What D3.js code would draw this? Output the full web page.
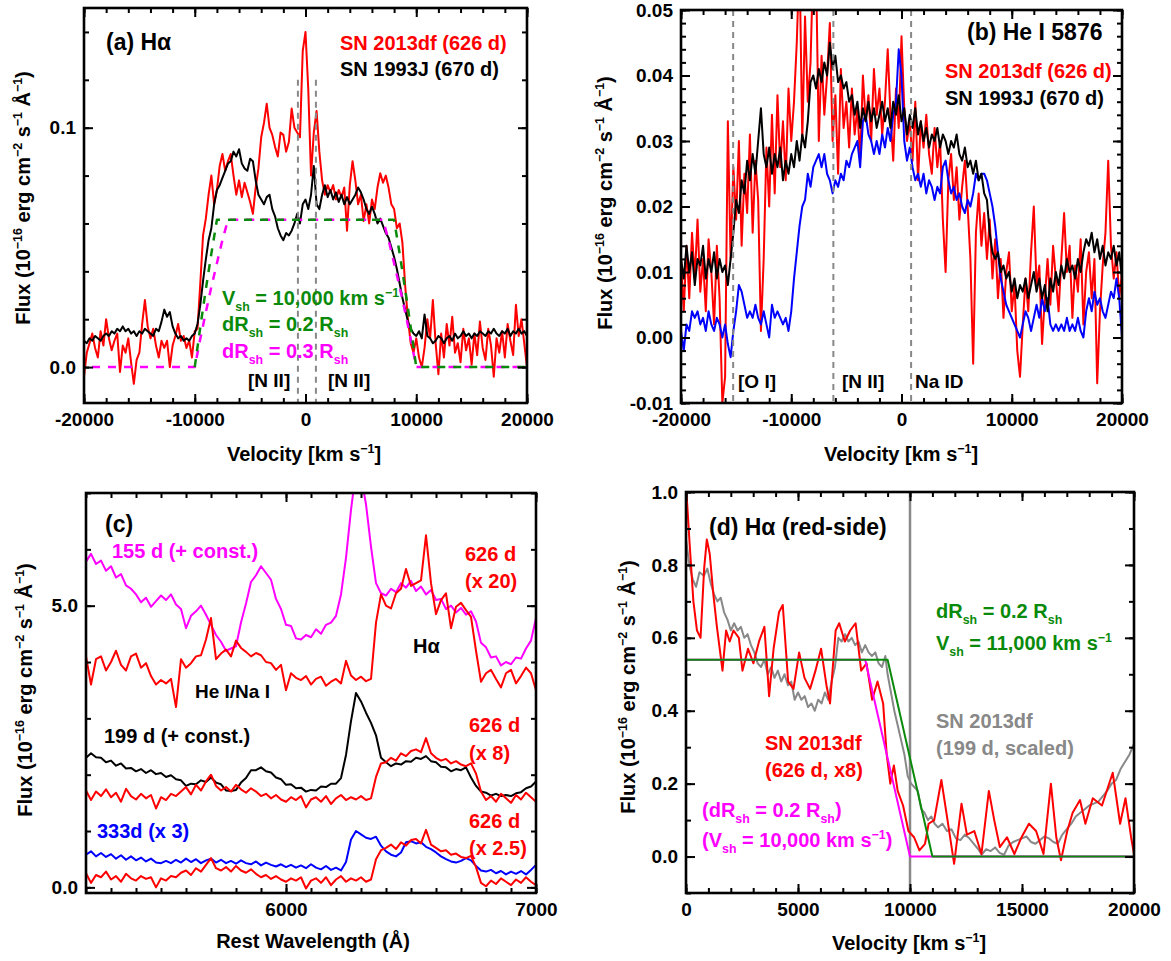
<!DOCTYPE html>
<html>
<head>
<meta charset="utf-8">
<script src="https://cdn.jsdelivr.net/npm/d3@7"></script>
<style>
  body { margin: 0; background: #fff; }
  text { font-family: Arial, "Liberation Sans", Helvetica, sans-serif; font-weight: bold; }
</style>
</head>
<body>
<svg id="fig" width="1171" height="961"></svg>
<script>
// ---------- DATA ----------
// panel (a): H-alpha, velocity grid from -20000 km/s, step 250
const aStart = -20000, aStep = 250;
const aRed = [
  -0.004,0.006,0.010,0.014,0.008,0.004,0.015,0.009,
  0.020,0.012,0.007,0.011,0.014,-0.002,0.009,0.006,
  0.012,0.002,-0.007,0.003,0.006,0.018,0.028,0.017,
  0.012,0.016,0.009,0.004,0.011,0.008,0.011,0.000,
  0.009,0.013,0.018,0.011,0.013,0.008,0.011,0.004,
  0.015,0.016,0.035,0.055,0.062,0.072,0.080,0.068,
  0.074,0.084,0.089,0.082,0.086,0.089,0.080,0.072,
  0.078,0.071,0.077,0.073,0.069,0.064,0.075,0.083,
  0.096,0.102,0.110,0.100,0.097,0.092,0.088,0.098,
  0.097,0.090,0.094,0.108,0.100,0.098,0.096,0.132,
  0.140,0.116,0.080,0.098,0.107,0.090,0.078,0.072,
  0.076,0.073,0.076,0.070,0.074,0.071,0.075,0.057,
  0.076,0.086,0.078,0.068,0.072,0.061,0.068,0.060,
  0.070,0.066,0.075,0.081,0.077,0.080,0.075,0.068,
  0.066,0.058,0.060,0.052,0.034,0.020,0.010,0.006,
  0.012,0.004,0.000,0.008,0.020,0.012,0.028,0.010,
  -0.003,0.014,0.004,0.018,0.009,0.021,0.006,0.010,
  0.002,0.016,0.007,0.012,0.001,0.014,0.005,0.019,
  0.008,0.003,0.016,0.009,-0.004,0.012,0.006,0.015,
  0.004,0.018,0.011,0.005,0.026,0.013,0.020,0.010,
  0.000];
const aBlack = [
  0.011,0.010,0.012,0.011,0.013,0.012,0.011,0.013,
  0.014,0.013,0.015,0.014,0.016,0.015,0.017,0.015,
  0.016,0.014,0.015,0.013,0.015,0.014,0.016,0.015,
  0.014,0.013,0.016,0.015,0.019,0.024,0.021,0.023,
  0.017,0.014,0.012,0.013,0.011,0.012,0.011,0.013,
  0.014,0.018,0.026,0.036,0.045,0.053,0.058,0.068,
  0.074,0.076,0.079,0.082,0.085,0.086,0.090,0.088,
  0.091,0.085,0.083,0.082,0.087,0.086,0.078,0.072,
  0.070,0.068,0.071,0.072,0.066,0.063,0.058,0.055,
  0.053,0.056,0.055,0.057,0.060,0.064,0.060,0.068,
  0.070,0.066,0.072,0.084,0.068,0.066,0.072,0.076,
  0.071,0.074,0.070,0.073,0.069,0.072,0.068,0.071,
  0.068,0.070,0.072,0.075,0.073,0.070,0.066,0.064,
  0.067,0.064,0.060,0.062,0.059,0.056,0.054,0.050,
  0.046,0.041,0.035,0.029,0.024,0.019,0.016,0.014,
  0.013,0.015,0.012,0.022,0.013,0.012,0.010,0.011,
  0.013,0.012,0.010,0.012,0.013,0.011,0.014,0.012,
  0.013,0.015,0.013,0.014,0.012,0.014,0.013,0.015,
  0.014,0.013,0.015,0.014,0.016,0.014,0.013,0.015,
  0.014,0.016,0.013,0.015,0.014,0.016,0.014,0.015,
  0.013];
// shell models (velocity, flux)
const aModel02 = [[-10000,0],[-9500,0.0167],[-9000,0.0325],[-8500,0.0474],[-8000,0.0615],
  [8000,0.0615],[8500,0.0474],[9000,0.0325],[9500,0.0167],[10000,0],[20000,0]];
const aModel03 = [[-20000,0],[-10000,0],[-9500,0.0118],[-9000,0.0229],[-8500,0.0335],[-8000,0.0434],
  [-7500,0.0531],[-7000,0.0615],[7000,0.0615],[7500,0.0531],[8000,0.0434],[8500,0.0335],
  [9000,0.0229],[9500,0.0118],[10000,0],[20000,0]];
const aLines = [-685, 940];   // [N II] 6548, 6583

// panel (b): He I 5876, velocity grid from -20000, step 250
const bStart = -20000, bStep = 250;
const bRed = [
  0.012,0.004,0.014,0.006,0.016,0.009,0.018,0.007,
  0.012,0.004,0.015,0.010,0.002,0.014,0.006,-0.010,
  -0.006,0.033,0.012,0.026,0.018,0.030,0.014,0.025,
  0.019,0.031,0.016,0.027,0.021,0.001,0.012,0.029,
  0.020,0.034,0.022,0.037,0.026,0.033,0.024,0.038,
  0.030,0.036,0.045,0.058,0.030,0.049,0.036,0.042,
  0.058,0.056,0.030,0.043,0.034,0.040,0.048,0.030,
  0.037,0.025,0.041,0.032,0.036,0.029,0.038,0.031,
  0.035,0.027,0.040,0.033,0.037,0.030,0.041,0.034,
  0.038,0.031,0.036,0.044,0.034,0.027,0.038,0.032,
  0.046,0.035,0.030,0.033,0.027,0.036,0.024,0.033,
  0.029,0.034,0.028,0.025,0.032,0.026,0.030,0.018,
  0.010,0.024,0.028,0.021,0.026,0.018,0.023,0.027,
  0.020,0.012,-0.004,0.016,0.022,0.014,0.019,0.012,
  0.018,0.009,0.015,0.006,0.012,0.003,0.010,0.013,
  0.004,0.008,-0.002,-0.006,0.002,0.009,0.004,0.013,
  0.020,0.008,0.011,-0.001,0.006,0.012,0.005,0.014,
  0.009,0.004,0.012,0.019,0.010,0.014,0.003,0.011,
  0.007,0.015,0.002,0.010,0.013,0.006,0.012,-0.007,
  0.004,0.011,0.016,0.027,0.014,0.009,0.013,0.006,
  0.010];
const bBlack = [
  0.012,0.009,0.014,0.010,0.013,0.008,0.012,0.011,
  0.014,0.009,0.012,0.010,0.013,0.009,0.012,0.010,
  0.011,0.008,0.012,0.016,0.021,0.019,0.024,0.022,
  0.027,0.024,0.028,0.025,0.030,0.035,0.028,0.026,
  0.029,0.025,0.028,0.026,0.029,0.024,0.027,0.025,
  0.028,0.026,0.030,0.027,0.031,0.029,0.033,0.039,
  0.040,0.038,0.041,0.039,0.042,0.040,0.045,0.041,
  0.043,0.039,0.040,0.038,0.039,0.036,0.037,0.034,
  0.036,0.032,0.035,0.033,0.036,0.033,0.035,0.032,
  0.034,0.036,0.033,0.035,0.032,0.036,0.034,0.037,
  0.033,0.035,0.031,0.034,0.032,0.035,0.031,0.033,
  0.030,0.032,0.029,0.031,0.030,0.032,0.029,0.031,
  0.030,0.028,0.030,0.029,0.031,0.028,0.027,0.029,
  0.026,0.027,0.025,0.027,0.024,0.025,0.022,0.021,
  0.016,0.013,0.012,0.013,0.010,0.011,0.009,0.010,
  0.007,0.009,0.006,0.008,0.007,0.009,0.006,0.008,
  0.010,0.007,0.009,0.006,0.008,0.004,0.009,0.007,
  0.010,0.008,0.011,0.009,0.012,0.010,0.011,0.009,
  0.012,0.010,0.013,0.015,0.014,0.016,0.013,0.015,
  0.012,0.014,0.011,0.013,0.012,0.014,0.011,0.013,
  0.009];
const bBlue = [
  0.001,-0.002,0.002,0.001,0.004,0.003,0.004,0.002,
  0.003,0.001,0.004,0.002,0.001,0.003,0.002,0.000,
  0.002,-0.001,-0.003,0.001,0.004,0.008,0.007,0.005,
  0.003,0.004,0.003,0.005,0.003,0.002,0.004,0.002,
  0.000,0.005,0.003,0.004,0.003,0.002,0.003,0.001,
  0.004,0.009,0.013,0.017,0.020,0.021,0.025,0.023,
  0.026,0.027,0.028,0.026,0.028,0.025,0.024,0.022,
  0.024,0.023,0.025,0.024,0.027,0.026,0.028,0.029,
  0.030,0.026,0.033,0.034,0.031,0.030,0.028,0.030,
  0.028,0.031,0.029,0.032,0.030,0.034,0.036,0.044,
  0.040,0.030,0.027,0.029,0.026,0.024,0.025,0.023,
  0.025,0.022,0.024,0.023,0.021,0.023,0.022,0.026,
  0.027,0.024,0.022,0.023,0.021,0.022,0.020,0.019,
  0.021,0.020,0.022,0.025,0.024,0.025,0.025,0.024,
  0.022,0.020,0.017,0.013,0.009,0.007,0.005,0.004,
  0.003,0.002,0.001,0.000,0.002,0.004,0.003,0.001,
  0.003,0.005,0.003,0.006,0.004,0.006,0.002,0.001,
  0.002,0.001,0.002,0.001,0.003,0.001,0.002,0.001,
  0.003,0.001,0.000,0.004,0.006,0.004,0.007,0.005,
  0.006,0.004,0.003,0.005,0.007,0.006,0.009,0.006,
  0.000];
const bLines = [-15270, -6180, 870];   // [O I] 5577, [N II] 5755, Na ID

// panel (c): rest wavelength grid from 5200 A, step 20
const cStart = 5200, cStep = 20;
const c155 = [
  5.78,5.92,5.74,5.80,5.62,5.70,5.50,5.56,5.36,5.30,
  5.20,5.06,5.14,4.98,5.08,5.18,5.10,5.20,5.02,4.94,
  4.60,4.82,4.90,5.00,4.84,4.66,4.48,4.36,4.20,4.24,
  4.28,4.70,5.04,5.42,5.54,5.70,5.58,5.46,5.12,4.94,
  4.66,4.64,4.42,4.40,4.48,4.44,4.58,4.50,4.66,4.70,
  4.82,5.20,5.85,6.70,7.40,7.30,6.80,6.05,5.40,5.22,
  5.18,5.30,5.24,5.40,5.32,5.44,5.26,5.34,5.20,5.28,
  5.10,5.12,4.94,5.00,4.88,4.96,4.84,4.90,4.72,4.34,
  4.26,4.08,4.10,3.94,4.00,3.96,4.08,4.06,4.24,4.38,
  4.78];
const c626x20 = [
  4.10,3.60,4.05,4.10,3.85,4.00,4.20,3.95,3.85,4.10,
  4.15,3.90,3.98,3.75,3.60,3.68,3.62,3.70,3.20,4.05,
  3.90,3.98,4.10,4.12,4.40,4.78,4.05,4.15,4.22,4.10,
  4.38,4.25,4.18,4.10,4.16,4.12,4.00,3.98,3.86,3.95,
  3.50,3.80,3.72,3.68,3.75,3.60,3.70,3.74,3.58,3.65,
  3.70,3.62,4.02,3.76,3.68,3.74,3.66,3.70,4.70,5.20,
  5.00,4.95,5.22,5.30,5.65,5.35,5.40,5.45,6.25,5.40,
  4.85,5.10,5.22,4.60,4.98,5.05,4.92,4.80,4.20,3.65,
  3.80,3.86,3.70,3.55,3.80,3.86,3.62,3.75,3.90,3.80,
  3.50];
const c199 = [
  2.30,2.38,2.31,2.30,2.22,2.25,2.16,2.20,2.11,2.12,
  2.06,2.10,2.03,2.08,2.01,2.03,1.96,1.99,1.92,1.90,
  1.80,1.84,1.83,1.90,1.87,1.95,1.86,1.83,1.72,1.71,
  1.73,1.86,1.94,2.08,2.08,2.13,2.06,2.04,1.95,1.92,
  1.82,1.83,1.76,1.77,1.70,1.73,1.72,1.79,1.78,1.84,
  1.84,1.94,2.35,2.95,3.45,3.30,3.10,2.92,2.70,2.30,
  2.22,2.15,2.20,2.18,2.24,2.23,2.30,2.28,2.33,2.24,
  2.22,2.14,2.13,2.06,2.10,2.08,2.13,1.95,1.80,1.70,
  1.68,1.63,1.66,1.62,1.64,1.62,1.67,1.69,1.76,1.79,
  1.88];
const c626x8 = [
  1.72,1.55,1.70,1.62,1.74,1.60,1.68,1.52,1.75,1.62,
  1.56,1.66,1.58,1.64,1.40,1.60,1.55,1.66,1.62,1.70,
  1.78,1.65,1.82,1.72,1.88,2.00,1.80,1.72,1.78,1.70,
  1.82,1.74,1.68,1.76,1.70,1.62,1.66,1.58,1.64,1.56,
  1.52,1.60,1.55,1.62,1.42,1.56,1.60,1.52,1.62,1.48,
  1.58,1.64,1.55,1.60,1.56,1.62,1.55,1.58,1.96,2.20,
  2.22,2.30,2.25,2.38,2.33,2.42,2.45,2.40,2.65,2.38,
  2.30,2.25,2.28,2.20,2.24,2.18,2.15,2.20,2.02,1.70,
  1.55,1.62,1.52,1.66,1.58,1.50,1.64,1.56,1.68,1.60,
  1.52];
const c333 = [
  0.58,0.64,0.55,0.61,0.54,0.59,0.51,0.57,0.49,0.55,
  0.48,0.53,0.46,0.51,0.44,0.43,0.47,0.43,0.49,0.44,
  0.51,0.45,0.50,0.43,0.48,0.51,0.44,0.49,0.43,0.47,
  0.42,0.48,0.43,0.41,0.46,0.39,0.44,0.40,0.37,0.41,
  0.36,0.40,0.35,0.39,0.34,0.41,0.35,0.32,0.38,0.31,
  0.35,0.30,0.45,0.85,1.00,0.94,0.88,0.86,0.90,0.74,
  0.64,0.58,0.55,0.62,0.80,0.82,0.78,0.80,0.72,0.68,
  0.62,0.55,0.50,0.46,0.44,0.47,0.52,0.48,0.38,0.30,
  0.28,0.31,0.25,0.29,0.23,0.28,0.24,0.29,0.23,0.31,
  0.40];
const c626x25 = [
  0.25,0.08,0.22,0.18,0.28,0.14,0.20,0.10,0.24,0.16,
  0.12,0.20,0.15,0.18,0.00,0.16,0.12,0.20,0.18,0.26,
  0.30,0.22,0.34,0.28,0.40,0.52,0.34,0.30,0.36,0.28,
  0.38,0.30,0.26,0.32,0.24,0.18,0.22,0.15,0.20,0.14,
  0.10,0.16,0.12,0.18,-0.02,0.12,0.16,0.08,0.18,0.04,
  0.14,0.20,0.10,0.16,0.12,0.18,0.10,0.14,0.50,0.66,
  0.70,0.76,0.68,0.80,0.74,0.84,0.86,0.78,1.02,0.76,
  0.70,0.64,0.66,0.58,0.60,0.54,0.52,0.56,0.36,0.08,
  0.02,0.12,0.06,0.16,0.10,0.04,0.14,0.08,0.18,0.10,
  0.04];

// panel (d): red side of H-alpha (velocity, flux)
const dGray = [[0,0.87],[150,0.80],[300,0.76],[450,0.74],[600,0.78],[800,0.77],[950,0.79],[1100,0.75],
  [1250,0.72],[1400,0.70],[1550,0.71],[1700,0.67],[1850,0.65],[2000,0.62],[2150,0.64],[2300,0.62],
  [2450,0.63],[2600,0.60],[2750,0.61],[2900,0.58],[3050,0.56],[3200,0.53],[3350,0.52],[3500,0.54],
  [3650,0.50],[3800,0.52],[3950,0.49],[4100,0.51],[4250,0.48],[4400,0.50],[4550,0.47],[4700,0.48],
  [4850,0.43],[5000,0.45],[5150,0.43],[5300,0.44],[5450,0.41],[5600,0.42],[5750,0.40],[5900,0.43],
  [6050,0.42],[6200,0.45],[6350,0.43],[6500,0.48],[6650,0.52],[6800,0.60],[6950,0.59],[7100,0.61],
  [7250,0.59],[7400,0.60],[7550,0.58],[7700,0.59],[7850,0.56],[8000,0.58],[8150,0.56],[8300,0.55],
  [8450,0.56],[8600,0.53],[8750,0.52],[8900,0.55],[9000,0.50],[9150,0.45],[9300,0.40],[9450,0.36],
  [9600,0.32],[9750,0.28],[9900,0.22],[10050,0.20],[10200,0.19],[10350,0.18],[10500,0.13],[10650,0.12],
  [10800,0.10],[10950,0.11],[11100,0.09],[11250,0.08],[11450,0.09],[11650,0.07],[11850,0.075],[12050,0.05],
  [12250,0.045],[12450,0.06],[12650,0.05],[12850,0.035],[13050,0.02],[13200,0.005],[13400,0.02],[13600,0.015],
  [13800,0.025],[14000,0.01],[14200,0.005],[14400,0.03],[14600,0.04],[14800,0.045],[15000,0.05],[15200,0.055],
  [15400,0.04],[15600,0.035],[15800,0.045],[16000,0.055],[16200,0.05],[16400,0.04],[16600,0.035],[16800,0.06],
  [17000,0.075],[17200,0.09],[17400,0.11],[17600,0.12],[17800,0.13],[18000,0.14],[18200,0.145],[18400,0.15],
  [18600,0.165],[18800,0.18],[19000,0.20],[19200,0.21],[19400,0.24],[19600,0.26],[19800,0.28],[20000,0.31]];
const dRed = [[0,1.02],[160,0.86],[330,0.70],[490,0.62],[650,0.60],[810,0.79],[930,0.87],[1060,0.83],
  [1220,0.72],[1380,0.63],[1630,0.51],[1790,0.62],[1950,0.59],[2120,0.62],[2360,0.60],[2520,0.51],
  [2770,0.57],[3010,0.53],[3260,0.59],[3500,0.63],[3710,0.44],[3910,0.57],[4150,0.67],[4320,0.69],
  [4560,0.48],[4800,0.46],[5050,0.56],[5290,0.49],[5540,0.46],[5780,0.51],[6030,0.57],[6270,0.47],
  [6430,0.42],[6680,0.62],[6840,0.64],[7090,0.59],[7330,0.62],[7570,0.64],[7820,0.51],[8060,0.53],
  [8310,0.43],[8550,0.48],[8800,0.42],[8960,0.28],[9120,0.20],[9280,0.25],[9450,0.18],[9690,0.14],
  [9930,0.07],[10180,0.053],[10420,0.017],[10670,0.035],[10830,0.09],[11080,0.10],[11400,0.21],[11650,0.11],
  [11970,-0.02],[12300,0.145],[12540,0.06],[12870,0.07],[13190,0.007],[13520,0.18],[13760,0.10],[14010,0.026],
  [14330,0.053],[14660,0.007],[14980,0.053],[15310,0.09],[15630,0.07],[15960,0.007],[16290,0.20],[16530,0.053],
  [16740,-0.01],[17020,0.07],[17260,0.12],[17590,0.155],[17830,0.09],[18160,0.16],[18570,0.14],[19050,0.23],
  [19380,0.09],[19620,0.16],[19870,0.053],[20000,0.007]];
const dModel10 = [[0,0.54],[8000,0.54],[10000,0],[20000,0]];
const dModel11 = [[0,0.54],[9000,0.54],[11000,0],[20000,0]];
const dVline = 10000;

// ---------- DRAWING ----------
const svg = d3.select("#fig");
const FONT = "Arial, 'Liberation Sans', Helvetica, sans-serif";
const RED = "#ff0000", GREEN = "#0a8a0a", MAG = "#ff00ff", BLUE = "#0000ff", GRAY = "#888888";
let clipCount = 0;

function onGrid(start, step, vals) { return vals.map((v, i) => [start + i * step, v]); }

function panel(box, xd, yd) {
  const x = d3.scaleLinear().domain(xd).range([box.l, box.r]);
  const y = d3.scaleLinear().domain(yd).range([box.b, box.t]);
  const id = "clip" + (clipCount++);
  svg.append("clipPath").attr("id", id).append("rect")
    .attr("x", box.l).attr("y", box.t).attr("width", box.r - box.l).attr("height", box.b - box.t);
  const plot = svg.append("g").attr("clip-path", `url(#${id})`);
  return { box, x, y, plot };
}

function axes(p, xMinor, xMajor, xFmt, yMinor, yMajor, yFmt) {
  const { box, x, y } = p;
  const g = svg.append("g");
  const sides = [
    [d3.axisBottom, x, `translate(0,${box.b})`, xMinor, xMajor, xFmt, 10],
    [d3.axisTop, x, `translate(0,${box.t})`, xMinor, xMajor, null, 0],
    [d3.axisLeft, y, `translate(${box.l},0)`, yMinor, yMajor, yFmt, 8],
    [d3.axisRight, y, `translate(${box.r},0)`, yMinor, yMajor, null, 0]
  ];
  sides.forEach(([fn, sc, tr, mi, ma, fmt, pad]) => {
    g.append("g").attr("transform", tr)
      .call(fn(sc).tickValues(mi).tickSize(-5).tickFormat(""))
      .call(s => s.select(".domain").remove());
    g.append("g").attr("transform", tr)
      .call(fn(sc).tickValues(ma).tickSize(-9).tickPadding(pad).tickFormat(fmt || (() => "")))
      .attr("font-size", 19).attr("font-family", FONT).attr("font-weight", "bold")
      .call(s => s.select(".domain").remove());
  });
  g.selectAll("line").attr("stroke", "#000").attr("stroke-width", 2);
  g.selectAll("text").attr("fill", "#000");
  g.append("rect").attr("x", box.l).attr("y", box.t)
    .attr("width", box.r - box.l).attr("height", box.b - box.t)
    .attr("fill", "none").attr("stroke", "#000").attr("stroke-width", 2.6);
}

function curve(p, data, color, opts = {}) {
  const line = d3.line().x(d => p.x(d[0])).y(d => p.y(d[1]));
  return p.plot.append("path").datum(data).attr("d", line)
    .attr("fill", "none").attr("stroke", color)
    .attr("stroke-width", opts.w || 2).attr("stroke-linejoin", "round")
    .attr("stroke-dasharray", opts.dash || null)
    .attr("stroke-dashoffset", opts.offset || 0);
}

function vline(p, v, y0, y1, color, dash, w) {
  p.plot.append("line").attr("x1", p.x(v)).attr("x2", p.x(v))
    .attr("y1", p.y(y0)).attr("y2", p.y(y1))
    .attr("stroke", color).attr("stroke-width", w || 2).attr("stroke-dasharray", dash || null);
}

// text with ^{sup} and _{sub} markup
function rich(x, y, str, fs, color, anchor, transform) {
  const t = svg.append("text").attr("x", x).attr("y", y).attr("font-size", fs)
    .attr("fill", color || "#000").attr("text-anchor", anchor || "start");
  if (transform) t.attr("transform", transform);
  const parts = str.split(/(\^\{[^}]*\}|_\{[^}]*\})/).filter(s => s.length);
  let shift = 0;
  parts.forEach(s => {
    let target = 0, txt = s, size = fs;
    if (s[0] === "^") { target = -0.42 * fs; txt = s.slice(2, -1); size = fs * 0.62; }
    else if (s[0] === "_") { target = 0.32 * fs; txt = s.slice(2, -1); size = fs * 0.62; }
    t.append("tspan").attr("dy", target - shift).attr("font-size", size).text(txt);
    shift = target;
  });
  return t;
}

const FLUX = "Flux (10^{−16} erg cm^{−2} s^{−1} Å^{−1})";
const VEL = "Velocity [km s^{−1}]";
const fmtInt = d => String(d);

// ----- panel (a)
const pa = panel({ l: 84, r: 527, t: 8, b: 403 }, [-20000, 20000], [-0.015, 0.15]);
curve(pa, onGrid(aStart, aStep, aRed), RED);
curve(pa, onGrid(aStart, aStep, aBlack), "#000");
curve(pa, aModel03, MAG, { w: 2.5, dash: "8,8", offset: 8 });
curve(pa, aModel02, GREEN, { w: 2.5, dash: "8,8" });
aLines.forEach(v => vline(pa, v, 0.12, -0.015, GRAY, "6,5", 2));
axes(pa, d3.range(-20000, 20001, 2000), [-20000, -10000, 0, 10000, 20000], fmtInt,
  d3.range(0, 0.1401, 0.02), [0, 0.1], d => d.toFixed(1));
rich(0, 0, FLUX, 20, "#000", "middle", "translate(30,198) rotate(-90)");
rich(304, 461, VEL, 20, "#000", "middle");
rich(106, 50, "(a) Hα", 23, "#000");
rich(340, 50, "SN 2013df (626 d)", 20, RED);
rich(340, 76, "SN 1993J (670 d)", 20, "#000");
rich(222, 305, "V_{sh} = 10,000 km s^{−1}", 20, GREEN);
rich(222, 331, "dR_{sh} = 0.2 R_{sh}", 20, GREEN);
rich(222, 358, "dR_{sh} = 0.3 R_{sh}", 20, MAG);
rich(248, 387, "[N II]", 19, "#000");
rich(328, 387, "[N II]", 19, "#000");

// ----- panel (b)
const pb = panel({ l: 681, r: 1122, t: 10, b: 403 }, [-20000, 20000], [-0.01, 0.05]);
curve(pb, onGrid(bStart, bStep, bRed), RED);
curve(pb, onGrid(bStart, bStep, bBlue), BLUE);
curve(pb, onGrid(bStart, bStep, bBlack), "#000");
bLines.forEach(v => vline(pb, v, 0.05, -0.01, GRAY, "6,5", 2));
axes(pb, d3.range(-20000, 20001, 2000), [-20000, -10000, 0, 10000, 20000], fmtInt,
  d3.range(-0.01, 0.0501, 0.002), d3.range(-0.01, 0.0501, 0.01), d => d.toFixed(2));
rich(0, 0, FLUX, 20, "#000", "middle", "translate(612,203) rotate(-90)");
rich(901, 461, VEL, 20, "#000", "middle");
rich(967, 40, "(b) He I 5876", 23, "#000");
rich(945, 78, "SN 2013df (626 d)", 20, RED);
rich(945, 105, "SN 1993J (670 d)", 20, "#000");
rich(738, 388, "[O I]", 19, "#000");
rich(842, 388, "[N II]", 19, "#000");
rich(915, 388, "Na ID", 19, "#000");

// ----- panel (c)
const pc = panel({ l: 86, r: 536, t: 493, b: 893 }, [5200, 7000], [-0.1, 7.0]);
curve(pc, onGrid(cStart, cStep, c155), MAG);
curve(pc, onGrid(cStart, cStep, c626x20), RED);
curve(pc, onGrid(cStart, cStep, c199), "#000");
curve(pc, onGrid(cStart, cStep, c626x8), RED);
curve(pc, onGrid(cStart, cStep, c333), BLUE);
curve(pc, onGrid(cStart, cStep, c626x25), RED);
axes(pc, d3.range(5200, 7001, 100), [6000, 7000], fmtInt,
  d3.range(0, 7.01, 1), [0, 5], d => d.toFixed(1));
rich(0, 0, FLUX, 20, "#000", "middle", "translate(32,690) rotate(-90)");
rich(313, 948, "Rest Wavelength (Å)", 20, "#000", "middle");
rich(105, 532, "(c)", 23, "#000");
rich(112, 558, "155 d (+ const.)", 20, MAG);
rich(465, 561, "626 d", 20, RED);
rich(465, 588, "(x 20)", 20, RED);
rich(413, 653, "Hα", 20, "#000");
rich(195, 698, "He I/Na I", 19, "#000");
rich(104, 743, "199 d (+ const.)", 20, "#000");
rich(469, 732, "626 d", 20, RED);
rich(469, 760, "(x 8)", 20, RED);
rich(97, 838, "333d (x 3)", 20, BLUE);
rich(469, 828, "626 d", 20, RED);
rich(469, 855, "(x 2.5)", 20, RED);

// ----- panel (d)
const pd = panel({ l: 686, r: 1134, t: 492, b: 893 }, [0, 20000], [-0.1, 1.0]);
vline(pd, dVline, 1.0, -0.1, GRAY, null, 2.5);
curve(pd, dGray, GRAY);
curve(pd, dRed, RED);
curve(pd, dModel10, MAG);
curve(pd, dModel11, GREEN);
axes(pd, d3.range(0, 20001, 1000), [0, 5000, 10000, 15000, 20000], fmtInt,
  d3.range(-0.1, 1.001, 0.1), [0, 0.2, 0.4, 0.6, 0.8, 1.0], d => d.toFixed(1));
rich(0, 0, FLUX, 20, "#000", "middle", "translate(635,687) rotate(-90)");
rich(909, 950, VEL, 20, "#000", "middle");
rich(709, 535, "(d) Hα (red-side)", 23, "#000");
rich(936, 618, "dR_{sh} = 0.2 R_{sh}", 20, GREEN);
rich(936, 650, "V_{sh} = 11,000 km s^{−1}", 20, GREEN);
rich(936, 728, "SN 2013df", 20, GRAY);
rich(936, 755, "(199 d, scaled)", 20, GRAY);
rich(765, 750, "SN 2013df", 20, RED);
rich(765, 777, "(626 d, x8)", 20, RED);
rich(702, 817, "(dR_{sh} = 0.2 R_{sh})", 20, MAG);
rich(702, 847, "(V_{sh} = 10,000 km s^{−1})", 20, MAG);
</script>
</body>
</html>
